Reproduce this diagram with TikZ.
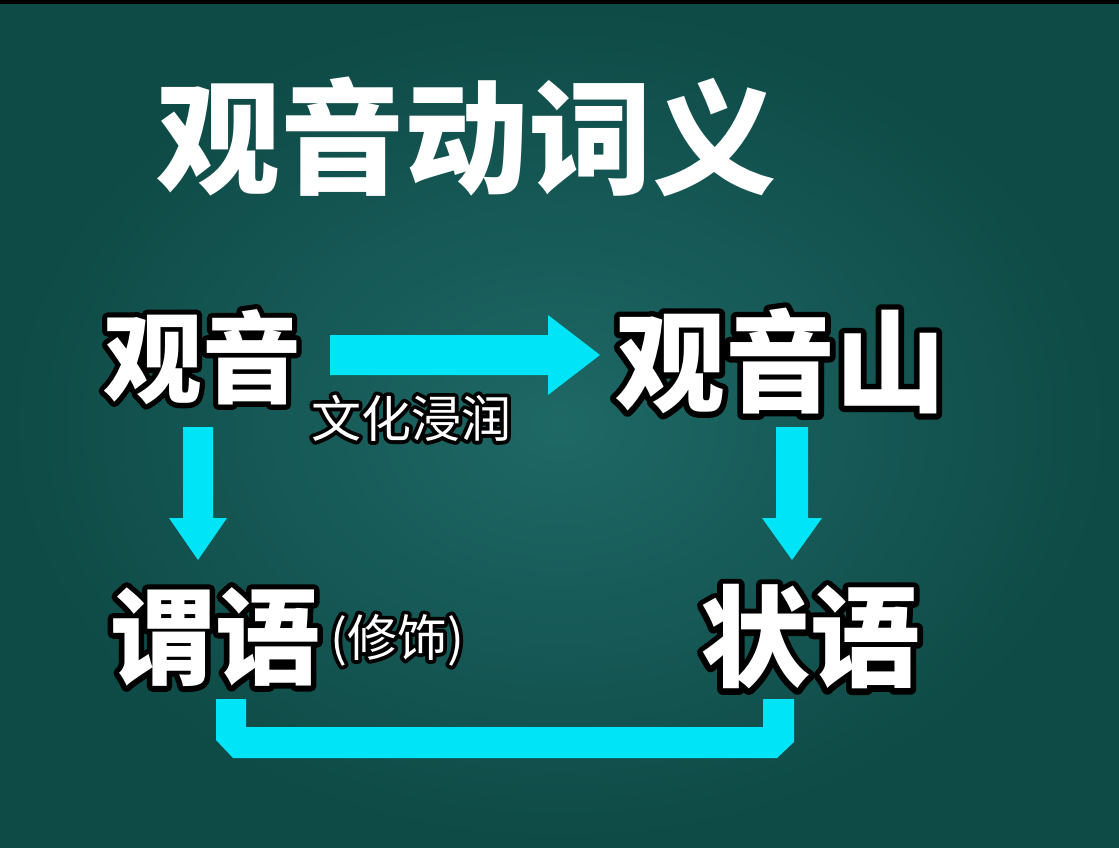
\documentclass[tikz,border=0pt]{standalone}
\usepackage{fontspec}
\newfontfamily\cjk{Noto Sans CJK SC}
\newfontfamily\cjkob[BoldFeatures={FakeBold=10.5}]{Noto Sans CJK SC}
\newfontfamily\cjkor[FakeBold=15]{Noto Sans CJK SC}
\usetikzlibrary{calc}
\definecolor{bgin}{RGB}{30,104,102}
\definecolor{bgout}{RGB}{14,74,70}
\definecolor{arrowcyan}{RGB}{0,228,248}
\tikzset{
  txt/.style={inner sep=0pt, anchor=center},
  blockfill/.style={fill=arrowcyan},
}
% name, coordinate, size, outline family, fill family, text
\newcommand\outl[6]{%
  \node[txt, font=#4\fontsize{#3}{#3}\selectfont, text=black] at (#2) {#6};
  \node[txt, font=#5\fontsize{#3}{#3}\selectfont, text=white] (#1) at (#2) {#6};
}
\begin{document}
\begin{tikzpicture}[x=1pt,y=-1pt,line join=round]
\useasboundingbox (0,0) rectangle (1119,848);
\shade[inner color=bgin, outer color=bgout] (0,0) rectangle (1119,848);
\fill[black] (0,0) rectangle (1119,4);

% title
\node[txt, font=\cjk\bfseries\fontsize{124}{124}\selectfont, text=white] (title) at (466,137) {观音动词义};

% main terms
\outl{gy}{202,357}{99}{\cjkob\bfseries}{\cjk\bfseries}{观音}
\outl{gys}{780,361}{110}{\cjkob\bfseries}{\cjk\bfseries}{观音山}
\outl{wy}{215,637}{105}{\cjkob\bfseries}{\cjk\bfseries}{谓语}
\outl{zy}{810,637}{110}{\cjkob\bfseries}{\cjk\bfseries}{状语}
\outl{wh}{411,418}{50}{\cjkor}{\cjk}{文化浸润}
\outl{xs}{397,640}{50}{\cjkor}{\cjk}{(修饰)}

% connector end points
\coordinate (r0) at (330,355);
\coordinate (r1) at (600,355);
\coordinate (d0) at (198,427);
\coordinate (d1) at (198,560);
\coordinate (e0) at (792,427);
\coordinate (e1) at (792,560);

% right arrow 观音 -> 观音山
\fill[blockfill] ($(r0)+(0,-20)$) -- ($(r1)+(-52,-20)$) -- ($(r1)+(-52,-40)$) -- (r1)
  -- ($(r1)+(-52,40)$) -- ($(r1)+(-52,20)$) -- ($(r0)+(0,20)$) -- cycle;
% down arrow 观音 -> 谓语
\fill[blockfill] ($(d0)+(-15,0)$) -- ($(d0)+(15,0)$) -- ($(d1)+(15,-42)$) -- ($(d1)+(29,-42)$)
  -- (d1) -- ($(d1)+(-29,-42)$) -- ($(d1)+(-15,-42)$) -- cycle;
% down arrow 观音山 -> 状语
\fill[blockfill] ($(e0)+(-16,0)$) -- ($(e0)+(16,0)$) -- ($(e1)+(16,-42)$) -- ($(e1)+(30,-42)$)
  -- (e1) -- ($(e1)+(-30,-42)$) -- ($(e1)+(-16,-42)$) -- cycle;

% bracket 谓语 -- 状语
\coordinate (b0) at (216,699);
\coordinate (b1) at (794,699);
\fill[blockfill] (b0) -- ($(b0)+(30,0)$) -- ($(b0)+(30,28)$) -- ($(b1)+(-31,28)$) -- ($(b1)+(-31,0)$)
  -- (b1) -- ($(b1)+(0,43)$) -- ($(b1)+(-17,59)$) -- ($(b0)+(17,59)$) -- ($(b0)+(0,41)$) -- cycle;
\end{tikzpicture}
\end{document}
